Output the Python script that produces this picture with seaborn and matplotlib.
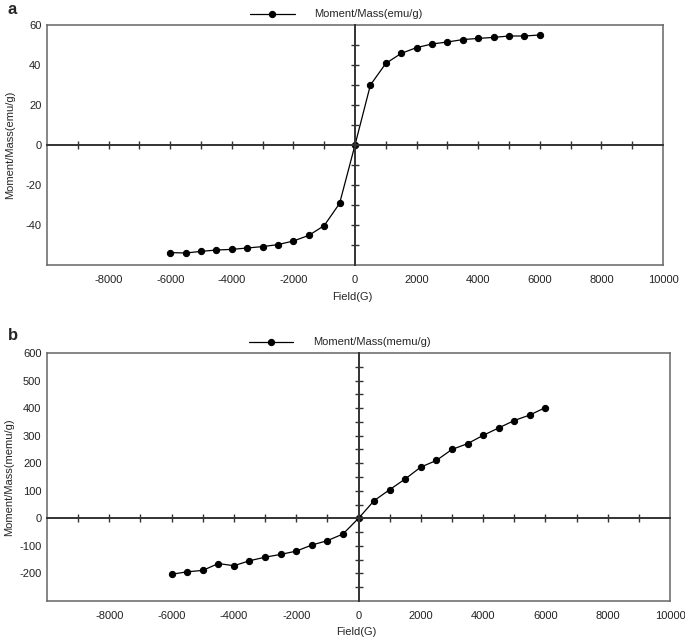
import matplotlib
matplotlib.use("Agg")
import matplotlib.pyplot as plt
import numpy as np
import pandas as pd
import seaborn as sns

# field values (G), same grid for both samples
field = [-6000, -5500, -5000, -4500, -4000, -3500, -3000, -2500, -2000, -1500, -1000, -500,
         0, 500, 1000, 1500, 2000, 2500, 3000, 3500, 4000, 4500, 5000, 5500, 6000]

# panel a: Moment/Mass (emu/g)
moment_a = [-53.8, -54.0, -53.2, -52.5, -52.2, -51.5, -50.8, -49.8, -48.0, -45.2, -40.3, -29.2,
            0.0, 30.0, 40.8, 45.8, 48.7, 50.5, 51.5, 52.7, 53.3, 53.8, 54.5, 54.5, 55.0]

# panel b: Moment/Mass (memu/g)
moment_b = [-203, -194, -189, -164, -172, -154, -141, -131, -119, -97, -81, -57,
            0, 64, 104, 143, 186, 210, 250, 271, 301, 328, 355, 375, 402]

x_labels = [-8000, -6000, -4000, -2000, 0, 2000, 4000, 6000, 8000, 10000]
x_zero_ticks = list(range(-9000, 10000, 1000))

panels = [
    dict(letter="a", y=moment_a, name="Moment/Mass(emu/g)", ylim=(-60, 60),
         yticks=[-40, -20, 0, 20, 40, 60], yzero=list(range(-50, 60, 10)),
         rect=[47, 25, 663, 265], letter_y=10, xlabel_y=297),
    dict(letter="b", y=moment_b, name="Moment/Mass(memu/g)", ylim=(-300, 600),
         yticks=[-200, -100, 0, 100, 200, 300, 400, 500, 600], yzero=list(range(-250, 600, 50)),
         rect=[47, 353, 670, 601], letter_y=335, xlabel_y=632),
]

sns.set_style("white")
plt.rcParams["font.family"] = ["Liberation Sans Narrow", "Liberation Sans", "DejaVu Sans"]
plt.rcParams["axes.unicode_minus"] = False

W, H = 685, 644
fig = plt.figure(figsize=(W / 100, H / 100), dpi=100)

for p in panels:
    x0, y0, x1, y1 = p["rect"]
    pos = [x0 / W, 1 - y1 / H, (x1 - x0) / W, (y1 - y0) / H]
    ax = fig.add_axes(pos)
    df = pd.DataFrame({"field": field, "moment": p["y"]})
    sns.lineplot(data=df, x="field", y="moment", ax=ax, color="black", lw=0.9,
                 marker="o", markersize=4.5, markeredgecolor="black", sort=False,
                 estimator=None, label=p["name"], zorder=3)
    ax.set_xlim(-10000, 10000)
    ax.set_ylim(*p["ylim"])
    ax.set_xticks(x_labels)
    ax.set_yticks(p["yticks"])
    ax.tick_params(length=0, labelsize=8, colors="#222222")
    ax.tick_params(axis="x", pad=7)
    ax.tick_params(axis="y", pad=4)
    for s in ax.spines.values():
        s.set_color("#666666")
        s.set_linewidth(1.1)
    ax.set_xlabel("")
    ax.set_ylabel(p["name"], fontsize=8, family=["Liberation Sans", "DejaVu Sans"])
    ax.yaxis.set_label_coords(-0.052, 0.5)
    ax.legend(loc="lower center", bbox_to_anchor=(0.47, 1.0), frameon=False, fontsize=8,
              handlelength=4, handletextpad=1.8, borderaxespad=0.1)

    # zero axes with crossing ticks, drawn on an overlay with the same limits
    az = fig.add_axes(pos)
    az.set_xlim(ax.get_xlim())
    az.set_ylim(ax.get_ylim())
    az.patch.set_visible(False)
    az.spines["top"].set_visible(False)
    az.spines["right"].set_visible(False)
    az.spines["left"].set_position("zero")
    az.spines["bottom"].set_position("zero")
    for side in ("left", "bottom"):
        az.spines[side].set_color("#333333")
        az.spines[side].set_linewidth(1.4)
        az.spines[side].set_zorder(1)
    az.set_xticks(x_zero_ticks)
    az.set_yticks(p["yzero"])
    az.tick_params(direction="inout", length=6, width=1, colors="#333333",
                   bottom=True, left=True, labelbottom=False, labelleft=False)

    fig.text(8 / W, 1 - p["letter_y"] / H, p["letter"], fontsize=12, fontweight="bold",
             family=["Liberation Sans", "DejaVu Sans"], va="center", ha="left")
    fig.text(pos[0] + pos[2] * 0.496, 1 - p["xlabel_y"] / H, "Field(G)", fontsize=8,
             family=["Liberation Sans", "DejaVu Sans"], va="center", ha="center")

fig.savefig("out.png", dpi=100)
